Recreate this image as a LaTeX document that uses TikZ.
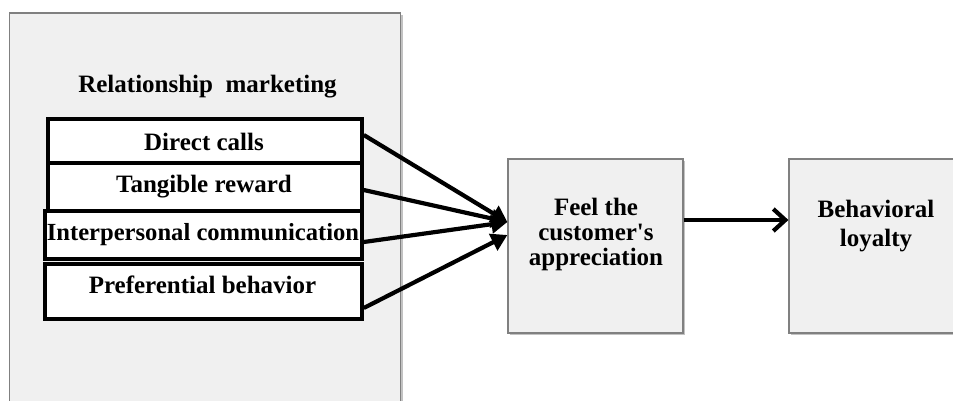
\documentclass[tikz,border=0pt]{standalone}
\usepackage{fontspec}
\setmainfont{Liberation Serif}[Ligatures=TeXOff]
\usetikzlibrary{arrows.meta,shadows}
\definecolor{boxfill}{HTML}{F0F0F0}
\definecolor{boxline}{HTML}{808080}
\begin{document}
\begin{tikzpicture}[x=1pt,y=-1pt,
  greybox/.style={draw=boxline,line width=1.2pt,fill=boxfill,inner sep=0pt,
    drop shadow={shadow xshift=2pt,shadow yshift=-2pt,fill=black!40,opacity=0.6}},
  itembox/.style={draw=black,line width=3.6pt,fill=white,inner sep=0pt},
  lbl/.style={font=\bfseries\fontsize{25}{25}\selectfont,align=center,inner sep=0pt,text=black},
  conn/.style={line width=4.2pt,-{Triangle[length=16pt,width=18pt]}},
  conn2/.style={line width=4.2pt,-{Straight Barb[length=12pt,width=22pt]}},
]
\useasboundingbox (0,0) rectangle (953,401);
% big container
\node[greybox,minimum width=391pt,minimum height=430pt,anchor=north west] (rm) at (9,12.5) {};
\node[lbl,anchor=base] (rmt) at (207.5,93) {Relationship\hspace{0.5em}marketing};
% items
\node[itembox,minimum width=314pt,minimum height=44pt] (dc) at (205,141) {};
\node[itembox,minimum width=314pt,minimum height=48pt] (tr) at (205,187) {};
\node[itembox,minimum width=317pt,minimum height=48pt] (ic) at (203.5,235) {};
\node[itembox,minimum width=317pt,minimum height=55pt] (pb) at (203.5,291.5) {};
\node[lbl] (dct) at (204,142) {Direct calls};
\node[lbl] (trt) at (204,187) {Tangible reward};
\node[lbl,font=\bfseries\fontsize{24.6}{25}\selectfont] (ict) at (203,235) {Interpersonal communication};
\node[lbl] (pbt) at (202.5,285) {Preferential behavior};
% right boxes
\node[greybox,minimum width=175pt,minimum height=174pt] (feel) at (595.5,246) {};
\node[lbl] (feelt) at (596,234) {Feel the\\customer's\\appreciation};
\node[greybox,minimum width=200pt,minimum height=174pt] (beh) at (889,246) {};
\node[lbl,font=\bfseries\fontsize{25}{29}\selectfont] (beht) at (876,226) {Behavioral\\loyalty};
% connectors
\coordinate (tipA) at ([yshift=24pt]feel.west);
\coordinate (tipB) at ([yshift=11pt]feel.west);
\draw[conn] ([yshift=6pt]dc.east) -- (tipA);
\draw[conn] ([yshift=-3pt]tr.east) -- (tipA);
\draw[conn] ([yshift=-7pt]ic.east) -- (tipA);
\draw[conn] ([yshift=-16.5pt]pb.east) -- (tipB);
\draw[conn2] ([yshift=26pt]feel.east) -- ([yshift=26pt]beh.west);
\end{tikzpicture}
\end{document}
